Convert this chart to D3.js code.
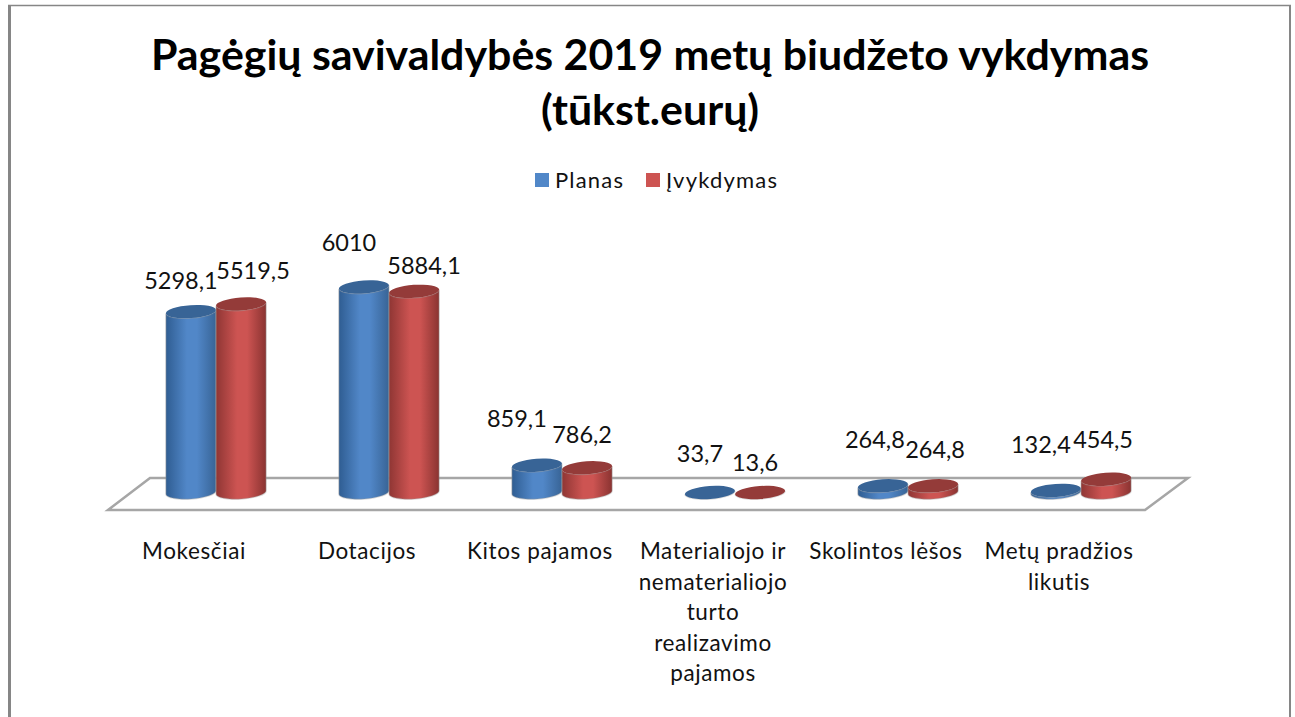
<!DOCTYPE html>
<html><head><meta charset="utf-8">
<script src="https://cdn.jsdelivr.net/npm/d3@7/dist/d3.min.js"></script>
<style>html,body{margin:0;background:#fff}svg{display:block}text{font-family:Lato,"Open Sans",sans-serif;fill:#111}</style>
</head><body><svg id="c" width="1295" height="717"></svg>
<script>
const titleLines=["Pagėgių savivaldybės 2019 metų biudžeto vykdymas","(tūkst.eurų)"];
const categories=["Mokesčiai","Dotacijos","Kitos pajamos","Materialiojo ir nematerialiojo turto realizavimo pajamos","Skolintos lėšos","Metų pradžios likutis"];
const categoryLines=[["Mokesčiai"],["Dotacijos"],["Kitos pajamos"],["Materialiojo ir","nematerialiojo","turto","realizavimo","pajamos"],["Skolintos lėšos"],["Metų pradžios","likutis"]];
const seriesNames=["Planas","Įvykdymas"];
const planas=[5298.1,6010,859.1,33.7,264.8,132.4];
const ivykdymas=[5519.5,5884.1,786.2,13.6,264.8,454.5];
const seriesValues=[planas,ivykdymas];
const labelNudgeX=[[-10,12],[-15,10],[-20,-5],[-10,-5],[-8,2],[-15,-3]];
const labelNudgeY=[[-22.5,-25],[-36,-17],[-38,-25],[-32,-23.5],[-38,-28],[-37.5,-31]];
const palette=[{l:"#2f5d92",m:"#5187c8",d:"#386496",top:"#386496"},{l:"#8f3634",m:"#cd5452",d:"#8a3331",top:"#943b39"}];

const svg=d3.select("#c");
const defs=svg.append("defs");
palette.forEach((p,i)=>{
  const g=defs.append("linearGradient").attr("id","g"+i);
  [[0,p.l],[.42,p.m],[.62,p.m],[1,p.d]].forEach(s=>g.append("stop").attr("offset",s[0]).attr("stop-color",s[1]));
});
const frame="#868686";
svg.append("line").attr("x1",8).attr("x2",1291).attr("y1",5.5).attr("y2",5.5).attr("stroke",frame).attr("stroke-width",1.5);
svg.append("line").attr("x1",9.5).attr("x2",9.5).attr("y1",5).attr("y2",717).attr("stroke",frame).attr("stroke-width",3);
svg.append("line").attr("x1",1290).attr("x2",1290).attr("y1",5).attr("y2",717).attr("stroke",frame).attr("stroke-width",2);

svg.selectAll(".t").data(titleLines).join("text").attr("class","t").attr("x",650).attr("y",(d,i)=>70+i*55)
  .attr("text-anchor","middle").attr("font-size",42.9).attr("font-weight",700).style("fill","#000").text(d=>d);

const legX=[535,646],legT=[555,666];
seriesNames.forEach((n,i)=>{
  svg.append("rect").attr("x",legX[i]).attr("y",173).attr("width",14).attr("height",14).attr("fill",palette[i].m);
  svg.append("text").attr("x",legT[i]).attr("y",188).attr("font-size",22).attr("letter-spacing",1.2).text(n);
});

const x0=d3.scaleBand().domain(categories).range([129.5,1167.5]).paddingInner(.42).paddingOuter(.21);
const x1=d3.scaleBand().domain([0,1]).range([0,x0.bandwidth()]);
const y=d3.scaleLinear().domain([0,6010]).range([495,287]);
const bottomY=492.5;
const rx=x1.bandwidth()/2, ry=6.5, tilt=-4*Math.PI/180;

// floor
svg.append("path").attr("fill","none").attr("stroke","#a6a6a6").attr("stroke-width",2.5)
 .attr("d",d3.line()([[108,510],[150,478],[1188,478],[1145,510],[108,510]])+"Z");

const g=svg.append("g");
categories.forEach((c,ci)=>{
  [0,1].forEach(si=>{
    const v=seriesValues[si][ci], cx=x0(c)+x1(si)+rx, top=Math.min(y(v),bottomY);
    const dx=rx*Math.cos(tilt), dy=rx*Math.sin(tilt);
    const r=`A${rx} ${ry} -4 0 `;
    const bar=g.append("g");
    bar.append("path").attr("fill",`url(#g${si})`).attr("stroke","#999").attr("stroke-opacity",.35).attr("stroke-width",1.5)
      .attr("d",`M${cx-dx} ${top-dy}L${cx-dx} ${bottomY-dy}${r}0 ${cx+dx} ${bottomY+dy}L${cx+dx} ${top+dy}${r}1 ${cx-dx} ${top-dy}Z`);
    bar.append("ellipse").attr("cx",cx).attr("cy",top).attr("rx",rx).attr("ry",ry)
      .attr("transform",`rotate(-4 ${cx} ${top})`).attr("fill",palette[si].top);
  });
});

categories.forEach((c,ci)=>{
  [0,1].forEach(si=>{
    const v=seriesValues[si][ci], cx=x0(c)+x1(si)+rx;
    svg.append("text").attr("class","lab").attr("x",cx+labelNudgeX[ci][si]).attr("y",y(v)+labelNudgeY[ci][si])
      .attr("text-anchor","middle").attr("font-size",23.5).text(String(v).replace(".",","));
  });
  categoryLines[ci].forEach((l,li)=>{
    svg.append("text").attr("x",x0(c)+x0.bandwidth()/2-22).attr("y",559+li*30.5)
      .attr("text-anchor","middle").attr("font-size",22.5).attr("letter-spacing",.6).text(l);
  });
});
</script></body></html>
